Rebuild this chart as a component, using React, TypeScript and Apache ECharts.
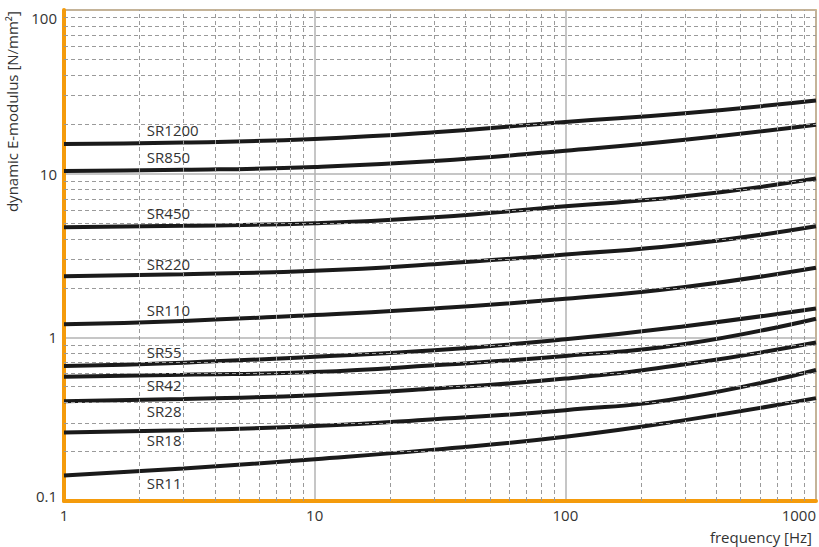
import React, { useEffect, useRef } from "react";
import * as echarts from "echarts";

// frequency [Hz]
const freq = [1, 3, 10, 30, 100, 300, 1000];

const seriesNames = ["SR1200", "SR850", "SR450", "SR220", "SR110", "SR55", "SR42", "SR28", "SR18", "SR11"];

const sr1200 = [15.2, 15.5, 16.3, 17.9, 20.7, 23.4, 28.0];
const sr850 = [10.4, 10.55, 11.0, 11.95, 13.8, 16.1, 19.9];
const sr450 = [4.71, 4.8, 4.98, 5.42, 6.32, 7.27, 9.33];
const sr220 = [2.36, 2.43, 2.55, 2.8, 3.21, 3.69, 4.77];
const sr110 = [1.2, 1.26, 1.37, 1.5, 1.72, 2.03, 2.66];
const sr55 = [0.668, 0.7, 0.762, 0.834, 0.972, 1.17, 1.5];
const sr42 = [0.575, 0.59, 0.614, 0.675, 0.769, 0.91, 1.3];
const sr28 = [0.407, 0.42, 0.443, 0.487, 0.56, 0.684, 0.929];
const sr18 = [0.262, 0.271, 0.287, 0.316, 0.359, 0.429, 0.632];
const sr11 = [0.143, 0.158, 0.18, 0.206, 0.247, 0.312, 0.425];

const seriesValues = [sr1200, sr850, sr450, sr220, sr110, sr55, sr42, sr28, sr18, sr11];

// axis ticks
const xTicks = [1, 10, 100, 1000];
const yTicks = [0.1, 1, 10, 100];
const minorSteps = [2, 3, 4, 5, 6, 7, 8, 9];

// label placement (styles)
const labelFreq = 2.14;
const labelDy = [-13, -13, -13, -11, -12, -12, 10, 11, 9, 12];

const ORANGE = "#f49b0c";
const TEXT = "#333333";
const FONT = "'Open Sans', sans-serif";
const FS = 15;

function interpLog(xs: number[], ys: number[], x: number) {
  const lx = Math.log10(x);
  for (let i = 0; i < xs.length - 1; i++) {
    const a = Math.log10(xs[i]);
    const b = Math.log10(xs[i + 1]);
    if (lx >= a && lx <= b) {
      const t = (lx - a) / (b - a);
      return Math.pow(10, Math.log10(ys[i]) + t * (Math.log10(ys[i + 1]) - Math.log10(ys[i])));
    }
  }
  return ys[0];
}

export default function App() {
  const ref = useRef<HTMLDivElement>(null);
  useEffect(() => {
    if (!ref.current) return;
    const chart = echarts.init(ref.current, undefined, { renderer: "svg" });

    const xMinor: number[] = [];
    xTicks.slice(0, -1).forEach((d) => minorSteps.forEach((k) => xMinor.push(k * d)));
    const yMinor: number[] = [];
    yTicks.slice(0, -1).forEach((d) => minorSteps.forEach((k) => yMinor.push(+(k * d).toPrecision(3))));

    const yMax = yTicks[yTicks.length - 1];
    const yMin = yTicks[0];

    const lineSeries = seriesNames.map((name, i) => ({
      type: "line",
      name,
      data: freq.map((f, j) => [f, seriesValues[i][j]]),
      smooth: 0.5,
      showSymbol: false,
      symbol: "none",
      z: 3,
      lineStyle: { color: "#1a1a1a", width: 4 },
      markPoint: {
        silent: true,
        symbol: "circle",
        symbolSize: 0,
        data: [{ coord: [labelFreq, interpLog(freq, seriesValues[i], labelFreq)] }],
        label: {
          show: true,
          position: "inside",
          align: "left",
          verticalAlign: "middle",
          offset: [0, labelDy[i]],
          formatter: name,
          color: TEXT,
          fontSize: FS,
          fontFamily: FONT,
        },
      },
    }));

    const option = {
      animation: false,
      grid: {
        left: 64,
        right: 1.5,
        top: 10,
        bottom: 46,
        show: true,
        borderColor: ORANGE,
        borderWidth: 1.5,
        containLabel: false,
      },
      xAxis: {
        type: "log",
        logBase: 10,
        min: xTicks[0],
        max: xTicks[xTicks.length - 1],
        axisLine: { show: true, lineStyle: { color: ORANGE, width: 4 } },
        axisTick: { show: false },
        axisLabel: {
          color: TEXT,
          fontSize: FS,
          fontFamily: FONT,
          margin: 6,
          alignMaxLabel: "right",
          formatter: (v: number) => String(v),
        },
        splitLine: { show: true, lineStyle: { color: "#b3b3b3", width: 1.5 } },
        name: "frequency [Hz]",
        nameLocation: "end",
        nameGap: -4,
        nameTextStyle: {
          color: TEXT,
          fontSize: FS,
          fontFamily: FONT,
          align: "right",
          verticalAlign: "top",
          padding: [28, 0, 0, 0],
        },
      },
      yAxis: {
        type: "log",
        logBase: 10,
        min: yMin,
        max: yMax,
        axisLine: { show: true, lineStyle: { color: ORANGE, width: 4 } },
        axisTick: { show: false },
        axisLabel: {
          color: TEXT,
          fontSize: FS,
          fontFamily: FONT,
          margin: 7,
          formatter: (v: number) =>
            v >= yMax ? `{top|${v}}` : v <= yMin ? `{bot|${v}}` : String(v),
          rich: {
            top: { fontSize: FS, fontFamily: FONT, color: TEXT, padding: [16, 0, 0, 0] },
            bot: { fontSize: FS, fontFamily: FONT, color: TEXT, padding: [0, 0, 10, 0] },
          },
        },
        splitLine: { show: true, lineStyle: { color: "#b3b3b3", width: 1.5 } },
      },
      graphic: [
        {
          type: "text",
          x: 12,
          y: 11,
          rotation: Math.PI / 2,
          silent: true,
          style: {
            text: "dynamic E-modulus [N/mm²]",
            fill: TEXT,
            fontSize: FS,
            fontFamily: FONT,
            textAlign: "right",
            textVerticalAlign: "middle",
          },
        },
      ],
      series: [
        {
          type: "line",
          name: "grid",
          data: [[1, 1]],
          showSymbol: false,
          symbol: "none",
          lineStyle: { opacity: 0 },
          z: 1,
          markLine: {
            silent: true,
            symbol: ["none", "none"],
            label: { show: false },
            lineStyle: { type: [4, 3], color: "#9a9a9a", width: 1 },
            data: [
              ...xMinor.map((v) => ({ xAxis: v })),
              ...yMinor.map((v) => ({ yAxis: v })),
            ],
          },
        },
        ...lineSeries,
      ],
    };
    chart.setOption(option as any);
    return () => chart.dispose();
  }, []);

  return (
    <div
      ref={ref}
      style={{ position: "fixed", left: 0, top: 0, width: 819, height: 547, background: "#fff" }}
    />
  );
}
